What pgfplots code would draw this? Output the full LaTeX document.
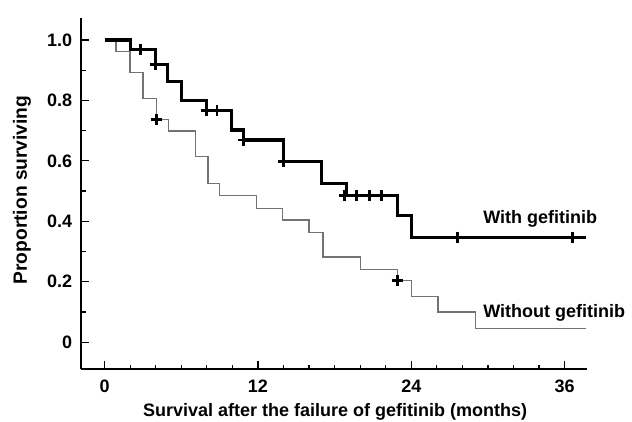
\documentclass[border=0pt]{standalone}
\usepackage{fontspec}
\setmainfont{Liberation Sans}
\usepackage{pgfplots}
\pgfplotsset{compat=1.18}
\begin{document}
\begin{tikzpicture}
\useasboundingbox (0,0) rectangle (316pt,211pt);
\begin{axis}[
  at={(40.6pt,26.5pt)}, anchor=south west,
  scale only axis, width=252.9pt, height=175.5pt,
  xmin=-1.83, xmax=37.75, ymin=-0.089, ymax=1.073,
  axis x line*=bottom, axis y line*=left,
  axis line style={-, line width=0.7pt},
  xtick={0,12,24,36}, xticklabels={0,12,24,36},
  minor xtick={2,4,6,8,10,14,16,18,20,22,26,28,30,32,34},
  ytick={0,0.2,0.4,0.6,0.8,1.0}, yticklabels={0,0.2,0.4,0.6,0.8,1.0},
  minor ytick={0.1,0.3,0.5,0.7,0.9},
  tick align=inside,
  major tick length=4pt, minor tick length=2.2pt,
  tick style={line width=0.6pt, black},
  tick label style={font=\fontsize{9}{11}\selectfont\bfseries},
  xticklabel style={yshift=-2pt},
  yticklabel style={xshift=-1pt},
  xlabel={Survival after the failure of gefitinib (months)},
  ylabel={Proportion surviving},
  label style={font=\fontsize{9}{11}\selectfont\bfseries},
  ylabel style={font=\fontsize{9.6}{11}\selectfont\bfseries},
  xlabel style={at={(axis description cs:0.502,-0.134)}, anchor=base},
  ylabel style={at={(axis description cs:-0.117,0.51)}, anchor=center, rotate=0},
  clip=false,
]
% Without gefitinib (thin gray)
\addplot[const plot, color=black!55, line width=0.65pt] coordinates {
(0,1.0) (0.9,0.961) (2.0,0.892) (3.0,0.807) (4.05,0.737) (5.0,0.699) (7.1,0.615)
(8.1,0.525) (9.0,0.485) (11.9,0.443) (13.9,0.404) (16.0,0.363) (17.1,0.282)
(20.0,0.241) (22.9,0.205) (24.0,0.15) (26.1,0.10) (29.0,0.045) (37.7,0.045)};
% With gefitinib (thick black)
\addplot[const plot, color=black, line width=1.6pt] coordinates {
(0,1.0) (2.0,0.97) (4.0,0.92) (4.9,0.862) (6.0,0.80) (8.0,0.768) (9.9,0.702)
(10.9,0.669) (14.0,0.599) (17.0,0.525) (18.9,0.485) (22.9,0.42) (24.0,0.347) (37.7,0.347)};
% censor marks
\addplot[only marks, mark=+, mark size=2.8pt, line width=1.4pt, black] coordinates {
(2.8,0.97) (4.0,0.92) (8.0,0.768) (8.8,0.768) (10.9,0.669) (14.0,0.599)
(18.8,0.485) (19.7,0.485) (20.7,0.485) (21.7,0.485) (27.6,0.347) (36.6,0.347)
(4.05,0.737) (22.9,0.205)};
\node[anchor=west, inner sep=0pt, font=\fontsize{9}{11}\selectfont\bfseries] at (axis cs:29.6,0.407) {With gefitinib};
\node[anchor=west, inner sep=0pt, font=\fontsize{9}{11}\selectfont\bfseries] at (axis cs:29.6,0.096) {Without gefitinib};
\end{axis}
\end{tikzpicture}
\end{document}
